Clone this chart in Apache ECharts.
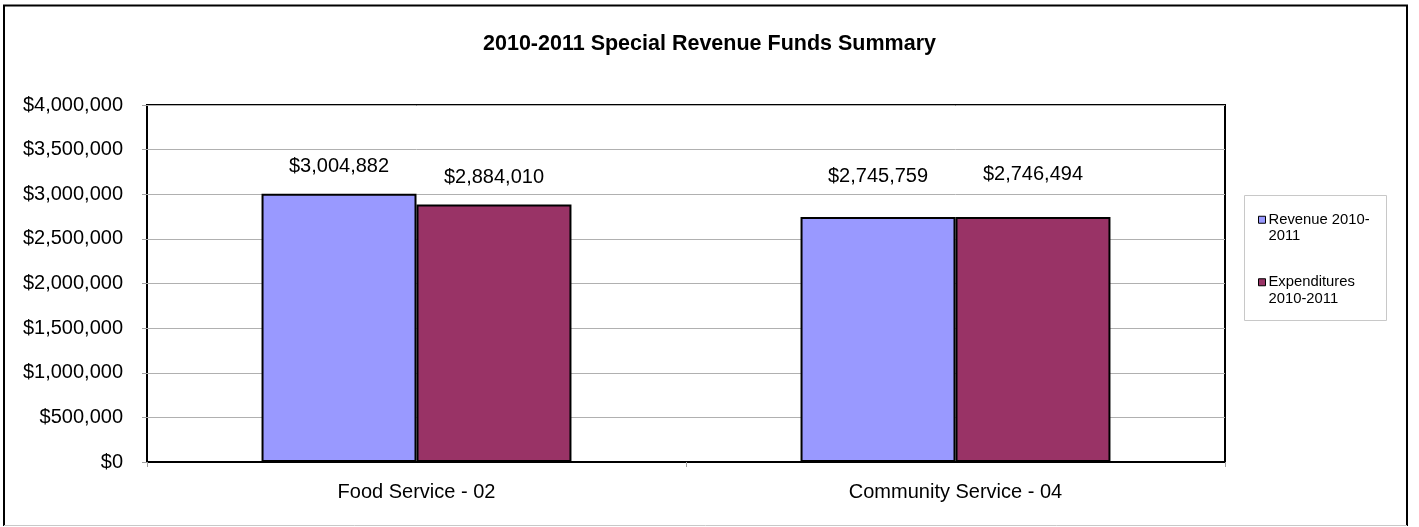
<!DOCTYPE html>
<html>
<head>
<meta charset="utf-8">
<title>2010-2011 Special Revenue Funds Summary</title>
<script src="https://cdn.jsdelivr.net/npm/echarts@6/dist/echarts.min.js"></script>
<style>
  html, body { margin: 0; padding: 0; background: #fff; }
  #chart { width: 1419px; height: 527px; }
</style>
</head>
<body>
<div id="chart"></div>
<script>
// Fund categories and yearly totals
const categories = ['Food Service - 02', 'Community Service - 04'];
const seriesNames = ['Revenue 2010-2011', 'Expenditures 2010-2011'];
const revenue = [3004882, 2745759];
const expenditures = [2884010, 2746494];
const yTicks = [0, 500000, 1000000, 1500000, 2000000, 2500000, 3000000, 3500000, 4000000];

// Label lift above each bar, per category
const labelLift = [[17, 30], [17, 32]];

const FONT = 'Liberation Sans, Arial, sans-serif';
const money = v => '$' + Number(v).toLocaleString('en-US');

const chart = echarts.init(document.getElementById('chart'), null, { renderer: 'canvas' });

function barSeries(name, values, color, lifts) {
  return {
    name: name,
    type: 'bar',
    barGap: '0%',
    barCategoryGap: '42.5%',
    data: values.map((v, i) => ({ value: v, label: { distance: lifts[i] } })),
    itemStyle: { color: color, borderColor: '#000', borderWidth: 2 },
    label: {
      show: true,
      position: 'top',
      formatter: p => money(p.value),
      color: '#000',
      fontFamily: FONT,
      fontSize: 20
    },
    emphasis: { disabled: true }
  };
}

chart.setOption({
  animation: false,
  backgroundColor: '#fff',
  title: {
    text: '2010-2011 Special Revenue Funds Summary',
    left: 'center',
    top: 28,
    textStyle: { fontFamily: FONT, fontWeight: 'bold', fontSize: 21.5, color: '#000' }
  },
  grid: {
    left: 147, top: 105, right: 194, bottom: 65,
    show: true, borderColor: '#000', borderWidth: 2, backgroundColor: '#fff'
  },
  legend: {
    orient: 'vertical',
    left: 1258,
    top: 195,
    itemWidth: 7,
    itemHeight: 7,
    itemGap: 13,
    icon: 'rect',
    padding: 0,
    formatter: name => {
      const parts = name === seriesNames[0] ? ['Revenue 2010-', '2011'] : ['Expenditures', '2010-2011'];
      return ' \n' + parts.join('\n');
    },
    textStyle: { fontFamily: FONT, fontSize: 14.8, color: '#000', lineHeight: 16.5, padding: [0, 0, 0, -2] },
    itemStyle: { borderColor: '#000', borderWidth: 1 },
    data: seriesNames
  },
  xAxis: {
    type: 'category',
    data: categories,
    axisLine: { lineStyle: { color: '#000', width: 2 } },
    axisTick: { show: true, length: 5, lineStyle: { color: '#a0a0a0' } },
    axisLabel: { fontFamily: FONT, fontSize: 20, color: '#000', margin: 20 }
  },
  yAxis: {
    type: 'value',
    min: yTicks[0],
    max: yTicks[yTicks.length - 1],
    interval: yTicks[1] - yTicks[0],
    axisLine: { show: false },
    axisTick: { show: true, length: 5, lineStyle: { color: '#a0a0a0' } },
    splitLine: { lineStyle: { color: '#b0b0b0', width: 1 } },
    axisLabel: { fontFamily: FONT, fontSize: 20, color: '#000', margin: 24, formatter: v => money(v) }
  },
  graphic: [
    {
      type: 'rect',
      shape: { x: 1244.5, y: 195.5, width: 142, height: 125 },
      style: { fill: 'none', stroke: '#c8c8c8', lineWidth: 1 },
      z: 0
    },
    {
      type: 'polyline',
      shape: { points: [[4, 526], [4, 5.5], [1407, 5.5], [1407, 526]] },
      style: { fill: 'none', stroke: '#000', lineWidth: 2 },
      z: 10
    },
    {
      type: 'line',
      shape: { x1: 4, y1: 525.5, x2: 1407, y2: 525.5 },
      style: { stroke: '#c8c8c8', lineWidth: 1 },
      z: 10
    }
  ],
  series: [
    barSeries(seriesNames[0], revenue, '#9999FF', labelLift[0]),
    barSeries(seriesNames[1], expenditures, '#993366', labelLift[1])
  ]
});
</script>
</body>
</html>
